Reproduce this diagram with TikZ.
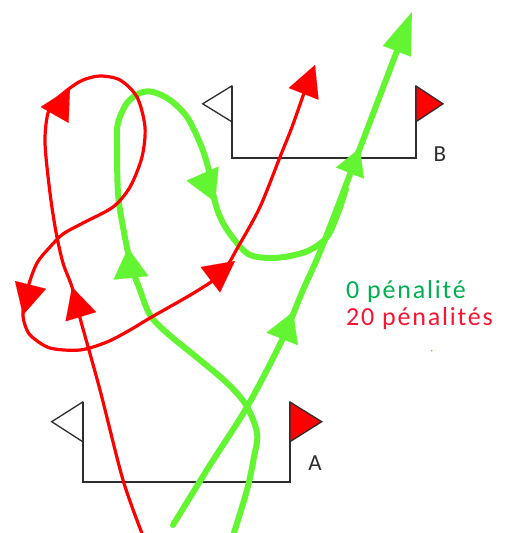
\documentclass[tikz,border=0pt]{standalone}
\usepackage{fontspec}
\usepackage{graphicx}
\setmainfont{Carlito}
\usetikzlibrary{arrows.meta}
\definecolor{pathgreen}{RGB}{100,245,50}
\definecolor{pathred}{RGB}{255,0,0}
\definecolor{txtgreen}{RGB}{0,176,80}
\definecolor{txtred}{RGB}{250,20,50}
\definecolor{gategray}{RGB}{45,45,45}
\newcommand\headR[2]{\draw[pathred,line width=0.1pt,-{Triangle[length=31pt,width=32pt]}] #2 -- #1;}
\newcommand\headG[4]{\draw[pathgreen,line width=0.1pt,-{Triangle[length=#3,width=#4]}] #2 -- #1;}
\begin{document}
\begin{tikzpicture}[x=1pt,y=-1pt,
  redline/.style={draw=pathred,line width=3.2pt,line cap=round,line join=round},
  greenline/.style={draw=pathgreen,line width=6pt,line cap=round,line join=round},
  gateline/.style={draw=gategray,line width=2pt},
  flag/.style={draw=gategray,line width=1.3pt,line join=miter},
  gatelbl/.style={font=\fontsize{23}{26}\selectfont,text=gategray,inner sep=0pt},
  legend/.style={font=\fontsize{26}{30}\selectfont\addfontfeatures{LetterSpace=7},inner sep=0pt,anchor=base west}]
\useasboundingbox (0,0) rectangle (505,533);
\fill[white] (0,0) rectangle (505,533);
% gate A
\coordinate (A1) at (82.7,402);
\coordinate (A2) at (290,402);
\draw[gateline] (A1) -- (82.7,481.7) -- (290,481.7) -- (A2);
\filldraw[flag,fill=white] (A1) -- (51.7,421.7) -- (82.7,441.7) -- cycle;
\filldraw[flag,fill=pathred] (A2) -- (321.7,421.7) -- (290,441.7) -- cycle;
\node[gatelbl] (labA) at (315,463) {A};
% gate B
\coordinate (B1) at (231.7,86);
\coordinate (B2) at (416,86);
\draw[gateline] (B1) -- (231.7,158.3) -- (416,158.3) -- (B2);
\filldraw[flag,fill=white] (B1) -- (202.7,103.8) -- (231.7,121.7) -- cycle;
\filldraw[flag,fill=pathred] (B2) -- (443,103.8) -- (416,121.7) -- cycle;
\node[gatelbl] (labB) at (440,154) {B};
% green paths
\draw[greenline] plot[smooth,tension=0.55] coordinates {(233,536) (247,490) (254,457) (257,433) (246,405) (227,383) (200,360) (167,333) (150,315) (140,290) (131,265) (123,227) (118,193) (117,143) (118,123) (127,103) (140,93) (153,92) (170,100) (187,117) (200,143) (208,167) (215,202) (223,223) (237,243) (250,255) (270,258) (290,256) (310,250) (327,237) (338,213) (346,189)};
\draw[greenline] plot[smooth,tension=0.55] coordinates {(173,525) (210,465) (247,407) (282,340) (303,290) (322,247) (360,148) (400,43)};
\headG{(128,248)}{(131.5,283)}{30pt}{35pt}
\headG{(215,202)}{(201,170)}{31pt}{35pt}
\headG{(293,312)}{(281,342)}{29pt}{34pt}
\headG{(360,148)}{(348,178)}{27pt}{30pt}
\headG{(412,12)}{(395,56)}{42pt}{30pt}
% red path
\draw[redline] plot[smooth,tension=0.5] coordinates {(143,536) (123,480) (100,390) (80,318) (72,287) (63,263) (56,232) (50,193) (45,143) (48,113) (57,99) (70,88) (83,80) (100,76) (120,80) (137,97) (145,127) (142,157) (130,187) (113,207) (83,223) (63,234) (50,247) (37,263) (28,287) (23,312) (25,325) (31,336) (50,348) (80,350) (107,342) (130,330) (150,318) (197,291) (222,273) (238,247) (260,207) (280,157) (292,127) (304,93)};
\headR{(72,287)}{(81,317)}
\headR{(70,88)}{(54,116)}
\headR{(23,315)}{(31.5,281)}
\headR{(235,261)}{(210,280)}
\headR{(315,65)}{(302,98)}
% legend
\node[legend,text=txtgreen] (leg0) at (346,298) {0 pénalité};
\node[legend,text=txtred] (leg20) at (346,325) {20 pénalités};
\fill[orange] (431.7,350.7) circle (0.9pt);
\end{tikzpicture}
\end{document}
